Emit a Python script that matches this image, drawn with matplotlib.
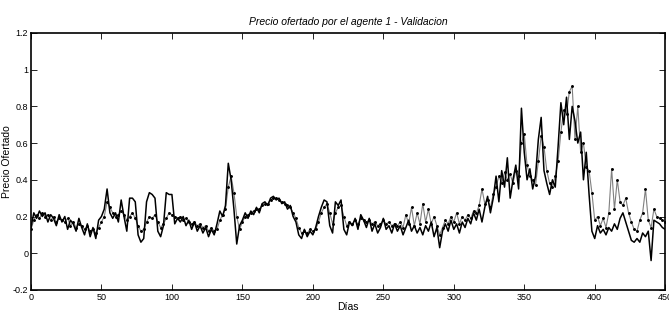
import matplotlib
matplotlib.use("Agg")
import matplotlib.pyplot as plt
import numpy as np

plt.rcParams['font.family'] = ['Liberation Sans', 'DejaVu Sans']

# days sampled every 2
dias = np.arange(0, 451, 2)

real = [0.14, 0.22, 0.19, 0.23, 0.20, 0.22, 0.17, 0.21, 0.19, 0.15,
        0.21, 0.17, 0.20, 0.13, 0.18, 0.16, 0.12, 0.19, 0.14, 0.10,
        0.16, 0.09, 0.14, 0.08, 0.18, 0.20, 0.24, 0.35, 0.22, 0.19,
        0.22, 0.17, 0.29, 0.20, 0.12, 0.30, 0.30, 0.28, 0.10, 0.06,
        0.08, 0.28, 0.33, 0.32, 0.30, 0.12, 0.09, 0.15, 0.33, 0.32,
        0.32, 0.16, 0.19, 0.17, 0.20, 0.15, 0.18, 0.13, 0.17, 0.12,
        0.15, 0.11, 0.14, 0.09, 0.13, 0.10, 0.16, 0.23, 0.20, 0.26,
        0.49, 0.40, 0.24, 0.05, 0.15, 0.18, 0.22, 0.19, 0.23, 0.21,
        0.25, 0.22, 0.27, 0.28, 0.26, 0.30, 0.31, 0.29, 0.30, 0.27,
        0.28, 0.24, 0.26, 0.20, 0.17, 0.10, 0.08, 0.13, 0.09, 0.12,
        0.10, 0.14, 0.20, 0.25, 0.29, 0.28, 0.15, 0.11, 0.28, 0.26,
        0.29, 0.13, 0.10, 0.17, 0.15, 0.19, 0.13, 0.21, 0.18, 0.14,
        0.19, 0.12, 0.16, 0.11, 0.14, 0.19, 0.13, 0.15, 0.11, 0.16,
        0.12, 0.15, 0.10, 0.14, 0.18, 0.12, 0.15, 0.11, 0.14, 0.10,
        0.15, 0.12, 0.17, 0.09, 0.14, 0.03, 0.12, 0.16, 0.12, 0.18,
        0.13, 0.16, 0.11, 0.17, 0.14, 0.19, 0.16, 0.22, 0.18, 0.24,
        0.17, 0.25, 0.31, 0.22, 0.30, 0.42, 0.28, 0.45, 0.36, 0.52,
        0.30, 0.40, 0.48, 0.35, 0.79, 0.55, 0.40, 0.46, 0.35, 0.42,
        0.62, 0.74, 0.45, 0.38, 0.32, 0.40, 0.36, 0.58, 0.82, 0.70,
        0.85, 0.62, 0.80, 0.72, 0.60, 0.66, 0.40, 0.55, 0.32, 0.12,
        0.08, 0.15, 0.11, 0.13, 0.10, 0.14, 0.12, 0.16, 0.13, 0.19,
        0.22, 0.17, 0.12, 0.07, 0.06, 0.08, 0.06, 0.11, 0.09, 0.12,
        -0.04, 0.18, 0.17, 0.16, 0.14, 0.13]

validacion = [0.13, 0.18, 0.21, 0.19, 0.22, 0.20, 0.21, 0.18, 0.20, 0.17,
              0.19, 0.18, 0.17, 0.19, 0.15, 0.17, 0.14, 0.16, 0.15, 0.13,
              0.15, 0.12, 0.13, 0.11, 0.14, 0.17, 0.20, 0.28, 0.25, 0.22,
              0.20, 0.21, 0.23, 0.21, 0.18, 0.20, 0.22, 0.19, 0.15, 0.12,
              0.13, 0.17, 0.20, 0.19, 0.21, 0.17, 0.14, 0.16, 0.19, 0.22,
              0.21, 0.20, 0.19, 0.20, 0.18, 0.19, 0.17, 0.16, 0.17, 0.15,
              0.16, 0.14, 0.15, 0.12, 0.14, 0.12, 0.13, 0.18, 0.21, 0.24,
              0.36, 0.42, 0.33, 0.20, 0.13, 0.17, 0.20, 0.21, 0.22, 0.23,
              0.24, 0.24, 0.26, 0.27, 0.27, 0.29, 0.30, 0.30, 0.29, 0.28,
              0.27, 0.26, 0.25, 0.22, 0.19, 0.14, 0.11, 0.12, 0.11, 0.13,
              0.12, 0.13, 0.17, 0.22, 0.25, 0.27, 0.22, 0.16, 0.22, 0.25,
              0.26, 0.20, 0.15, 0.17, 0.16, 0.18, 0.16, 0.19, 0.18, 0.17,
              0.18, 0.16, 0.17, 0.15, 0.16, 0.18, 0.16, 0.17, 0.15, 0.16,
              0.15, 0.17, 0.14, 0.21, 0.16, 0.25, 0.15, 0.22, 0.16, 0.27,
              0.17, 0.24, 0.16, 0.20, 0.15, 0.10, 0.14, 0.18, 0.16, 0.20,
              0.17, 0.22, 0.16, 0.20, 0.18, 0.21, 0.19, 0.23, 0.22, 0.26,
              0.35, 0.27, 0.29, 0.25, 0.32, 0.36, 0.42, 0.38, 0.44, 0.40,
              0.43, 0.38, 0.45, 0.42, 0.60, 0.65, 0.48, 0.42, 0.40, 0.37,
              0.50, 0.64, 0.58, 0.45, 0.38, 0.36, 0.42, 0.50, 0.66, 0.78,
              0.76, 0.88, 0.91, 0.62, 0.80, 0.55, 0.60, 0.47, 0.45, 0.33,
              0.18, 0.20, 0.15, 0.19, 0.14, 0.22, 0.46, 0.24, 0.40, 0.28,
              0.26, 0.30, 0.22, 0.17, 0.13, 0.12, 0.18, 0.22, 0.35, 0.18,
              0.14, 0.24, 0.20, 0.19, 0.18, 0.17]

fig = plt.figure(figsize=(6.69, 3.2), dpi=100)
ax = fig.add_axes([0.0463, 0.094, 0.948, 0.803])

ax.plot(dias, validacion, color='0.5', lw=0.8, marker='.', ms=2.2, mfc='k', mec='k')
ax.plot(dias, real, color='k', lw=1.1)

ax.set_xlim(0, 450)
ax.set_ylim(-0.2, 1.2)
ax.set_xticks(np.arange(0, 451, 50))
ax.set_yticks(np.arange(-0.2, 1.21, 0.2))
ax.set_yticklabels(['-0.2', '0', '0.2', '0.4', '0.6', '0.8', '1', '1.2'])
ax.tick_params(direction='in', top=True, right=True, labelsize=6.5, length=4, width=0.6, pad=2)
for s in ax.spines.values():
    s.set_linewidth(1.2)

ax.set_title('Precio ofertado por el agente 1 - Validacion', fontsize=7.5, style='italic', pad=6)
ax.set_xlabel('Días', fontsize=7.5, labelpad=0)
ax.set_ylabel('Precio Ofertado', fontsize=7.5)
ax.yaxis.set_label_coords(-0.03, 0.5)

fig.savefig('out.png', dpi=100)
